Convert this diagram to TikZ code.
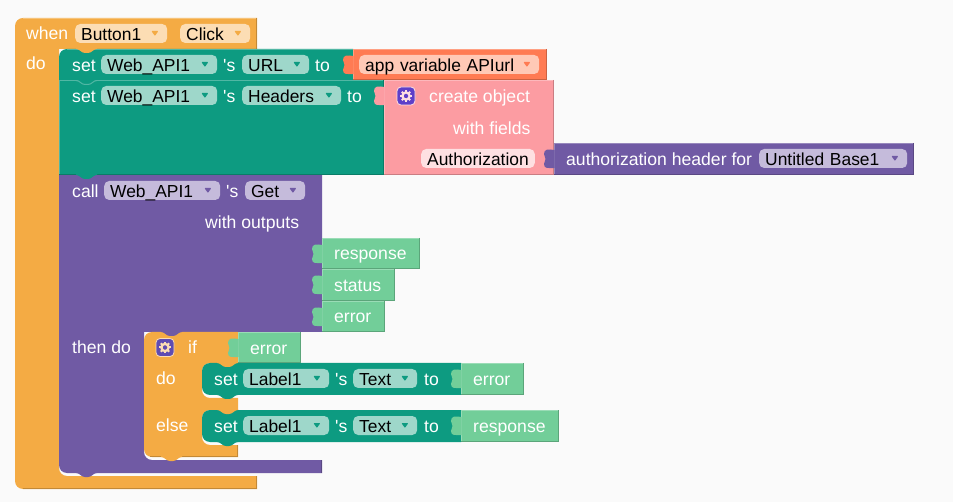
\documentclass[tikz,border=0pt]{standalone}
\usepackage{fontspec}
\setmainfont{Liberation Sans}[Ligatures=TeXOff]
\usepackage{xcolor}
\usetikzlibrary{positioning,calc}
\definecolor{pagebg}{HTML}{FAFAFA}
\definecolor{ctrl}{HTML}{F4AB44}
\definecolor{ctrllight}{HTML}{FCDDB4}
\definecolor{setter}{HTML}{0D9B81}
\definecolor{setterlight}{HTML}{9ED7CA}
\definecolor{method}{HTML}{705AA4}
\definecolor{methodlight}{HTML}{C5BBDB}
\definecolor{appvar}{HTML}{FF7B53}
\definecolor{appvarlight}{HTML}{FFC9B6}
\definecolor{dict}{HTML}{FC9CA2}
\definecolor{dictlight}{HTML}{FEE0E2}
\definecolor{outvar}{HTML}{72CE99}
\definecolor{gearfill}{HTML}{5E3FC9}
\tikzstyle{word} = [anchor=base west, inner sep=0pt, text=white, yshift=-0.7pt, font=\fontsize{17.6}{20}\selectfont]
\tikzstyle{field} = [anchor=base west, inner xsep=6pt, inner ysep=0pt, text height=16.7pt, text depth=2.3pt, yshift=-0.7pt,
    rounded corners=5pt, text=black, font=\fontsize{17.4}{20}\selectfont]
\tikzstyle{gearbox} = [draw, line width=0.8pt, rounded corners=4pt, minimum size=18pt, inner sep=0pt]
% name, left, right, baseline, fill, arrow colour, text
\newcommand{\dropfield}[7]{
  \node [field, fill=#5, text width={#3-#2-12}] (#1) at (#2,#4) {#7};
  \fill [#6, rounded corners=0.8pt] ($(#1.east)+(-16,-2.5)$) -- ++(7,0) -- ++(-3.5,5) -- cycle;
}
\newcommand{\notchcurve}[2]{(#1,#2) .. controls (#1+4,#2) and (#1+5,#2+4) .. (#1+9,#2+4) -- (#1+12,#2+4) .. controls (#1+16,#2+4) and (#1+17,#2) .. (#1+21,#2)}
\newcommand{\notch}[3]{\fill [#3] \notchcurve{#1}{#2} -- (#1+21,#2-1) -- (#1,#2-1) -- cycle;}
\newcommand{\puzzletab}[3]{\fill [#3] (#1+0.5,#2+7) .. controls (#1-6,#2+6) and (#1-10,#2+6) .. (#1-10,#2+11)
  .. controls (#1-10,#2+14) and (#1-8.5,#2+14) .. (#1-8.5,#2+16)
  .. controls (#1-8.5,#2+18) and (#1-10,#2+18) .. (#1-10,#2+21)
  .. controls (#1-10,#2+26) and (#1-6,#2+25) .. (#1+0.5,#2+25) -- cycle;}
% left, top, right, bottom, colour
\newcommand{\plainblock}[5]{
  \fill [#5] (#1,#2) rectangle (#3,#4);
  \draw [#5!72!white, line width=1pt] (#1+0.5,#4) -- (#1+0.5,#2+0.5) -- (#3,#2+0.5);
  \draw [#5!80!black, line width=1pt] (#3-0.5,#2) -- (#3-0.5,#4-0.5) -- (#1,#4-0.5);
}
\newcommand{\gearicon}[2]{
  \foreach \ang in {0,45,...,315} {\draw [#2, line width=2pt] (#1) ++(\ang:3.5) -- ++(\ang:2.4);}
  \draw [#2, line width=2.3pt] (#1) circle (3.6);
}
\begin{document}
\begin{tikzpicture}[x=1pt,y=-1pt]
  \fill [pagebg] (0,0) rectangle (953,502);

  % when block
  \fill [ctrl] [rounded corners=8pt] (15,300) -- (15,18) [sharp corners] -- (257,18) -- (257,49) -- (59,49)
    [rounded corners=8pt] -- (59,476) [sharp corners] -- (257,476) -- (257,489) [rounded corners=8pt] -- (15,489) -- (15,300) -- cycle;
  \draw [ctrl!72!white, line width=1pt] (23,18.5) -- (257,18.5);
  \draw [ctrl!80!black, line width=1pt] (256.5,18) -- (256.5,49);
  \draw [ctrl!80!black, line width=1pt] (256.5,476) -- (256.5,488.5) -- (23,488.5);

  % call block
  \fill [method] (59,175) -- (322,175) -- (322,332) -- (144,332) [rounded corners=8pt] -- (144,460) [sharp corners]
    -- (322,460) -- (322,473) [rounded corners=8pt] -- (59,473) -- (59,300) [sharp corners] -- (59,175) -- cycle;
  \draw [method!80!black, line width=1pt] (321.5,460) -- (321.5,472.5);
  \notch{76}{473}{method}

  % set blocks
  \fill [setter] [rounded corners=8pt] (59,80) -- (59,49) [sharp corners] -- (353,49) -- (353,80) -- cycle;
  \draw [setter!72!white, line width=1pt] (67,49.5) -- (353,49.5);
  \notch{76}{49}{ctrl}
  \plainblock{59}{80}{384}{175}{setter}
  \notch{76}{175}{setter}
  \plainblock{353}{49}{547}{80}{appvar}
  \plainblock{384}{80}{554}{175}{dict}
  \plainblock{554}{143}{914}{175}{method}
  \notch{76}{80}{setter}
  \draw [setter!72!white, line width=1pt] \notchcurve{76}{80.5};

  % if block
  \fill [ctrl] [rounded corners=8pt] (144,400) -- (144,332) [sharp corners] -- (238,332) -- (238,363) [rounded corners=8pt] -- (202,363)
    -- (202,398) [sharp corners] -- (238,398) -- (238,410) [rounded corners=8pt] -- (202,410) -- (202,445) [sharp corners]
    -- (238,445) -- (238,457) [rounded corners=8pt] -- (144,457) -- (144,400) -- cycle;
  \draw [ctrl!80!black, line width=1pt] (237.5,445) -- (237.5,456.5) -- (150,456.5);
  \notch{161}{332}{method}
  \notch{161}{457}{ctrl}
  \fill [setter] [rounded corners=8pt] (202,380) -- (202,363) [sharp corners] -- (461,363) -- (461,395) [rounded corners=8pt] -- (202,395) -- cycle;
  \notch{217}{363}{ctrl}
  \notch{217}{395}{setter}
  \fill [setter] [rounded corners=8pt] (202,425) -- (202,410) [sharp corners] -- (461,410) -- (461,442) [rounded corners=8pt] -- (202,442) -- cycle;
  \notch{217}{410}{ctrl}
  \notch{217}{442}{setter}

  % getter blocks
  \plainblock{322}{238}{420}{269}{outvar}
  \plainblock{322}{269}{395}{301}{outvar}
  \plainblock{322}{301}{385}{332}{outvar}
  \plainblock{238}{332}{301}{363}{outvar}
  \plainblock{461}{363}{524}{395}{outvar}
  \plainblock{461}{410}{559}{442}{outvar}

  % Tabs
  \puzzletab{353}{49}{appvar}
  \puzzletab{384}{80}{dict}
  \puzzletab{554}{143}{method}
  \puzzletab{322}{238}{outvar}
  \puzzletab{322}{269}{outvar}
  \puzzletab{322}{301}{outvar}
  \puzzletab{238}{332}{outvar}
  \puzzletab{461}{363}{outvar}
  \puzzletab{461}{410}{outvar}

  % Words
  \node [word] (when) at (26,39) {when};
  \node [word] (doMain) at (26,69) {do};
  \node [word] (setA) at (72,71) {set};
  \node [word] (possA) at (223,71) {'s};
  \node [word] (toA) at (315,71) {to};
  \node [word] (setB) at (72,102) {set};
  \node [word] (possB) at (223,102) {'s};
  \node [word] (toB) at (347,102) {to};
  \node [word] (create) at (429,102) {create object};
  \node [word] (fields) at (453,134) {with fields};
  \node [word] (authfor) at (566,165) {authorization header for};
  \node [word] (call) at (72,197) {call};
  \node [word] (possC) at (226,197) {'s};
  \node [word] (outputs) at (205,228) {with outputs};
  \node [word] (response) at (334,259) {response};
  \node [word] (status) at (334,291) {status};
  \node [word] (errorA) at (334,322) {error};
  \node [word] (thendo) at (72,353) {then do};
  \node [word] (ifword) at (188,353) {if};
  \node [word] (errorB) at (250,354) {error};
  \node [word] (doIf) at (156,384) {do};
  \node [word] (setC) at (214,385) {set};
  \node [word] (possD) at (335,385) {'s};
  \node [word] (toC) at (424,385) {to};
  \node [word] (errorC) at (473,385) {error};
  \node [word] (elseword) at (156,431) {else};
  \node [word] (setD) at (214,432) {set};
  \node [word] (possE) at (335,432) {'s};
  \node [word] (toD) at (424,432) {to};
  \node [word] (responseB) at (473,432) {response};

  % Fields
  \dropfield{button}{75}{167}{40}{ctrllight}{ctrl}{Button1}
  \dropfield{click}{180}{250}{40}{ctrllight}{ctrl}{Click}
  \dropfield{apiA}{101}{217}{71}{setterlight}{setter}{Web\_API1}
  \dropfield{url}{242}{309}{71}{setterlight}{setter}{URL}
  \dropfield{apiB}{101}{217}{102}{setterlight}{setter}{Web\_API1}
  \dropfield{headers}{242}{341}{102}{setterlight}{setter}{Headers}
  \dropfield{apiC}{104}{220}{197}{methodlight}{method}{Web\_API1}
  \dropfield{get}{245}{305}{197}{methodlight}{method}{Get}
  \dropfield{apiurl}{359}{539}{71}{appvarlight}{appvar}{app variable APIurl}
  \dropfield{base}{759}{907}{165}{methodlight}{method}{Untitled Base1}
  \dropfield{labelA}{243}{329}{385}{setterlight}{setter}{Label1}
  \dropfield{textA}{353}{417}{385}{setterlight}{setter}{Text}
  \dropfield{labelB}{243}{329}{432}{setterlight}{setter}{Label1}
  \dropfield{textB}{353}{417}{432}{setterlight}{setter}{Text}
  \node [field, fill=dictlight] (authkey) at (421,165) {Authorization};

  % Gear icons
  \node [gearbox, draw=dictlight, fill=gearfill] (gearA) at (406,96) {};
  \gearicon{gearA}{dictlight}
  \node [gearbox, draw=ctrllight, fill=method!85!blue] (gearB) at (165,347.5) {};
  \gearicon{gearB}{ctrllight}
\end{tikzpicture}
\end{document}
